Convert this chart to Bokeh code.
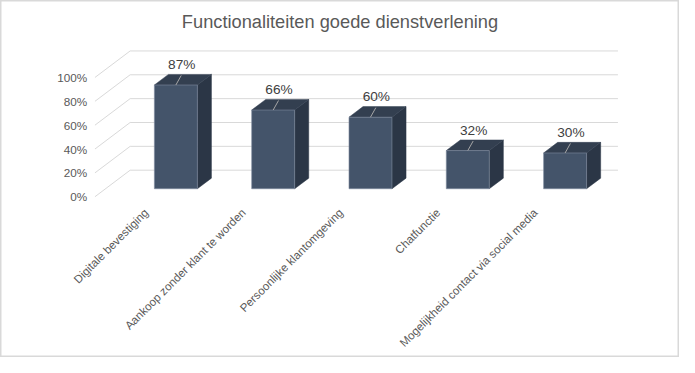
import math
from bokeh.plotting import figure
from bokeh.models import Range1d
from bokeh.core.properties import value
from bokeh.embed import file_html
from bokeh.resources import INLINE

# ---- data ----
categories = ["Digitale bevestiging", "Aankoop zonder klant te worden",
              "Persoonlijke klantomgeving", "Chatfunctie",
              "Mogelijkheid contact via social media"]
values = [87, 66, 60, 32, 30]
tick_values = [0, 20, 40, 60, 80, 100]
tick_labels = ["0%", "20%", "40%", "60%", "80%", "100%"]
title_text = "Functionaliteiten goede dienstverlening"

# ---- geometry (layout designed on a 695x373 canvas, drawn at W x H) ----
W, H = 679, 357
REF_W, REF_H = 695, 373
PX_X = 99.6      # ref px per category
PX_Y = 1.246     # ref px per percent
X0_PX = 168.7    # ref px of category 0 (front plane)
Y0_PX = 205.0    # ref px from top of 0% (front plane)
DX = 36 / PX_X   # depth vector (full depth) in data units
DY = 27.7 / PX_Y
F0, F1 = 0.3, 0.7   # bar front/back depth fractions
BW = 44 / PX_X      # bar width
WALL_L = (96.7 - X0_PX) / PX_X
WALL_R = (632 - X0_PX) / PX_X
S = W / REF_W

FONT = value("Liberation Sans")
TXT = "#595959"

p = figure(width=W, height=H, output_backend="svg", toolbar_location=None,
           x_range=Range1d(-X0_PX / PX_X, (REF_W - X0_PX) / PX_X),
           y_range=Range1d(-(REF_H - Y0_PX) / PX_Y, Y0_PX / PX_Y),
           min_border=0, min_border_left=0, min_border_right=0,
           min_border_top=0, min_border_bottom=0)
p.axis.visible = False
p.grid.visible = False
p.outline_line_color = "#d9d9d9"
p.outline_line_width = 2
p.background_fill_color = "white"
p.border_fill_color = "white"

# back-wall gridlines and side-wall diagonals
gx, gy, dxs, dys = [], [], [], []
for t in tick_values:
    gx.append([WALL_L + DX, WALL_R])
    gy.append([t + DY, t + DY])
    dxs.append([WALL_L, WALL_L + DX])
    dys.append([t, t + DY])
p.multi_line(gx, gy, line_color="#d9d9d9", line_width=1)
p.multi_line(dxs, dys, line_color="#d9d9d9", line_width=1)

# tick labels
p.text(x=[WALL_L - 8 / PX_X] * len(tick_values), y=tick_values, text=tick_labels,
       text_align="right", text_baseline="middle", text_font=FONT,
       text_font_size=f"{12 * S:.2f}px", text_color=TXT)

# 3D bars
fx, fy, tx, ty, sx, sy = [], [], [], [], [], []
for i, v in enumerate(values):
    xl = i + F0 * DX - BW / 2
    xr = i + F0 * DX + BW / 2
    yb = F0 * DY
    yt = v + F0 * DY
    ddx = (F1 - F0) * DX
    ddy = (F1 - F0) * DY
    fx.append([xl, xr, xr, xl]); fy.append([yb, yb, yt, yt])
    tx.append([xl, xr, xr + ddx, xl + ddx]); ty.append([yt, yt, yt + ddy, yt + ddy])
    sx.append([xr, xr + ddx, xr + ddx, xr]); sy.append([yb, yb + ddy, yt + ddy, yt])
p.patches(sx, sy, fill_color="#2B3646", line_color="#2B3646", line_width=0.5)
p.patches(tx, ty, fill_color="#333F50", line_color="#333F50", line_width=0.5)
p.patches(fx, fy, fill_color="#44546A", line_color="#7F8CA0", line_width=0.6)

# leader lines and data labels
lx, ly, labx, laby, labt = [], [], [], [], []
for i, v in enumerate(values):
    cx = i + F0 * DX
    cy = v + F0 * DY
    lx.append([cx, cx + 0.055]); ly.append([cy, cy + 8])
    labx.append(cx + 0.06); laby.append(cy + 17)
    labt.append(f"{v}%")
p.multi_line(lx, ly, line_color="#A6A6A6", line_width=1)
p.text(x=labx, y=laby, text=labt, text_align="center", text_baseline="middle",
       text_font=FONT, text_font_size=f"{14 * S:.2f}px", text_color="#404040")

# category labels (rotated)
p.text(x=list(range(len(categories))), y=[0] * len(categories), text=categories,
       angle=math.pi / 4, text_align="right", text_baseline="middle",
       x_offset=-19, y_offset=14,
       text_font=FONT, text_font_size=f"{11.8 * S:.2f}px", text_color=TXT)

# title
p.text(x=[(REF_W / 2 - X0_PX) / PX_X], y=[(Y0_PX - 22) / PX_Y], text=[title_text],
       text_align="center", text_baseline="middle", text_font=FONT,
       text_font_size=f"{18.67 * S:.2f}px", text_color=TXT)

open("out.html", "w").write(file_html(p, INLINE))
